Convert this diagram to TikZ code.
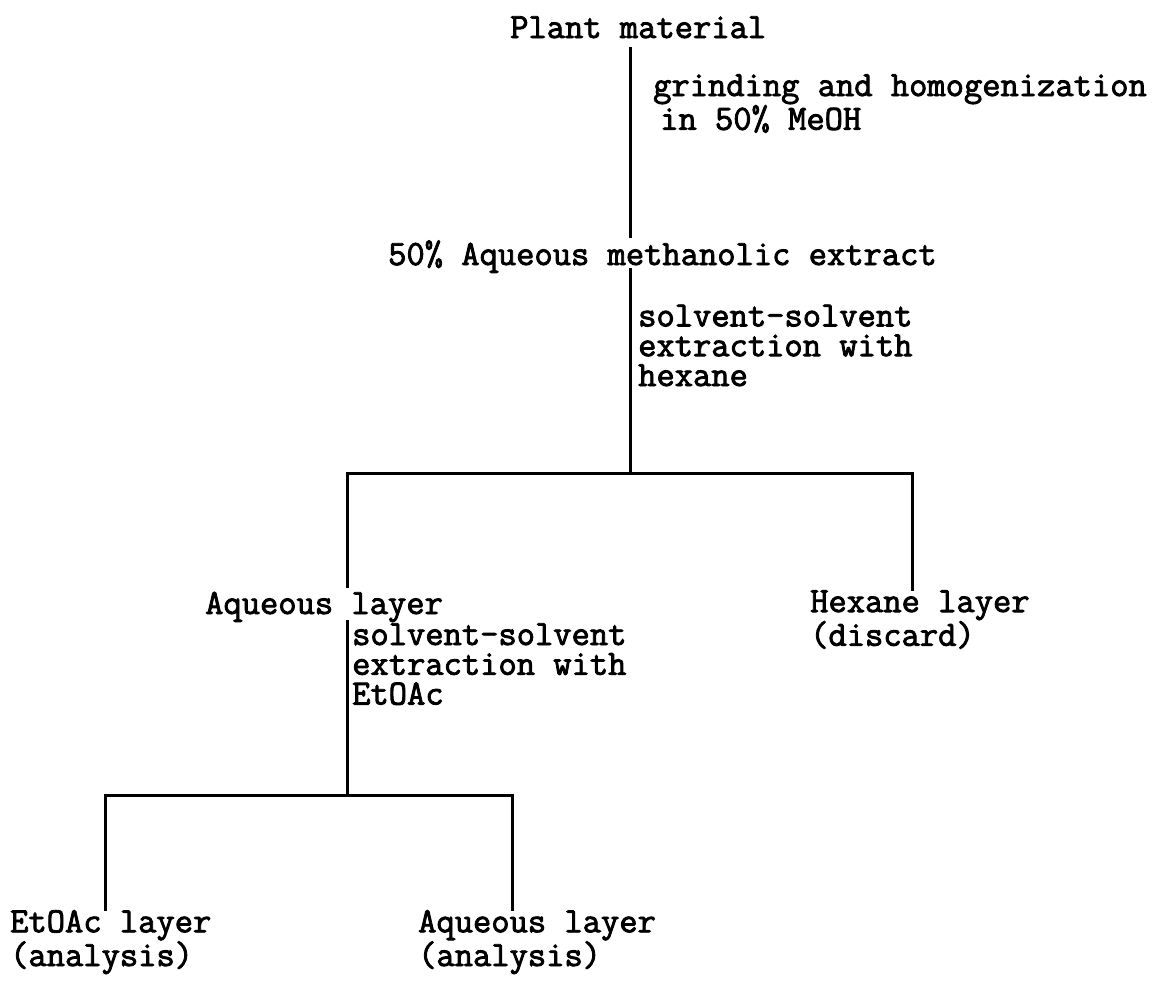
\documentclass[tikz,border=0pt]{standalone}
\usepackage{fontspec}
\newfontfamily\courfont[FakeBold=2.4]{Latin Modern Mono}
\begin{document}
\tikzset{
  lbl/.style={font=\courfont\fontsize{35.5}{29.8}\selectfont, inner sep=0pt, align=left},
  ln/.style={line width=3pt}
}
\begin{tikzpicture}[x=1pt,y=-1pt]
\useasboundingbox (0,0) rectangle (1160,1001);
\node[lbl,anchor=base west] (plant) at (510,38) {Plant material};
\node[lbl,anchor=base west] (grind) at (653,129.8) {grinding and homogenization\\\hspace{7pt}in 50\% MeOH};
\node[lbl,anchor=base west] (extract) at (388,265) {50\% Aqueous methanolic extract};
\node[lbl,anchor=base west] (hexstep) at (638,386) {solvent-solvent\\extraction with\\hexane};
\node[lbl,anchor=base west] (aq1) at (205,614) {Aqueous layer};
\node[lbl,anchor=base west] (etstep) at (352,704.6) {solvent-solvent\\extraction with\\EtOAc};
\node[lbl,anchor=base west] (hexl) at (810,645.8) {Hexane layer\\(discard)};
\node[lbl,anchor=base west] (etl) at (10,966) {EtOAc layer\\(analysis)};
\node[lbl,anchor=base west] (aq2) at (418,966) {Aqueous layer\\(analysis)};
\coordinate (s1) at (630,473);
\coordinate (s1l) at (347,473);
\coordinate (s1r) at (912,473);
\coordinate (s2) at (347,795);
\coordinate (s2l) at (105,795);
\coordinate (s2r) at (512,795);
\draw[ln] ([yshift=-9pt]plant.base -| s1) -- ([yshift=27pt]extract.base -| s1);
\draw[ln] ([yshift=-3pt]extract.base -| s1) -- (s1);
\draw[ln] ([yshift=26pt]aq1.base -| s1l) |- (s1) -| ([yshift=55pt]hexl.base -| s1r);
\draw[ln] ([yshift=-6pt]aq1.base -| s2) -- (s2);
\draw[ln] ([yshift=55pt]etl.base -| s2l) |- (s2) -| ([yshift=55pt]aq2.base -| s2r);
\end{tikzpicture}
\end{document}
